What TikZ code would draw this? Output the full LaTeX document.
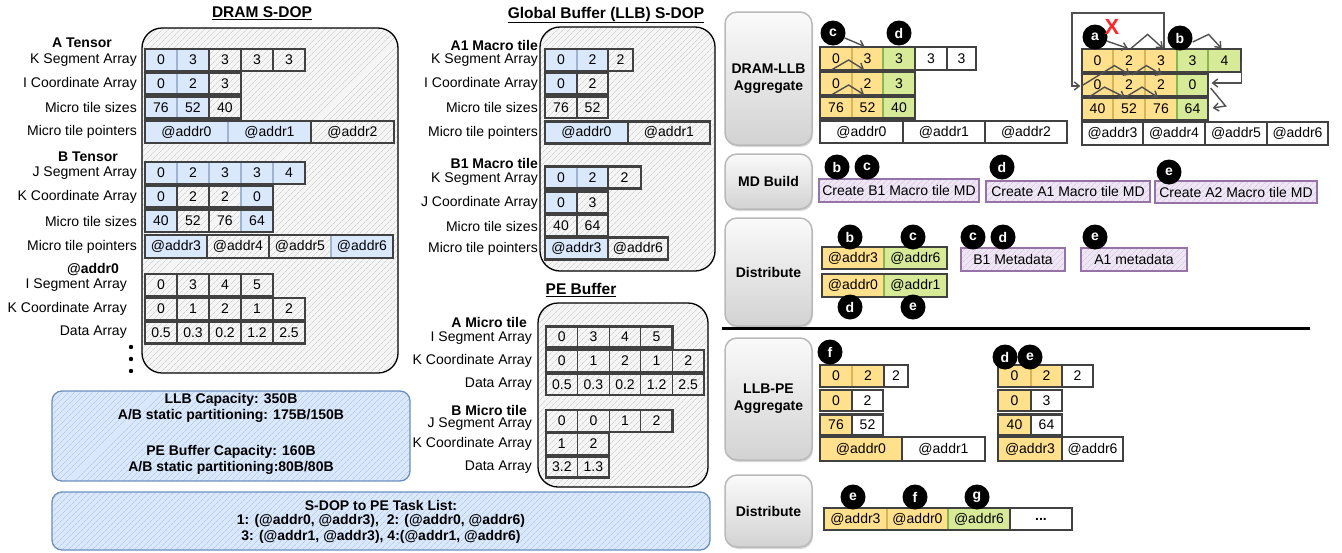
\documentclass[tikz,border=0pt]{standalone}
\usepackage{fontspec}
\setmainfont{Liberation Sans}
\usetikzlibrary{patterns.meta,shadows,arrows.meta}
\definecolor{cellgray}{RGB}{65,65,65}
\definecolor{blfill}{RGB}{218,232,252}
\definecolor{bldraw}{RGB}{160,180,210}
\definecolor{yefill}{RGB}{255,224,140}
\definecolor{yedraw}{RGB}{214,182,86}
\definecolor{grfill}{RGB}{214,234,152}
\definecolor{grdraw}{RGB}{140,180,80}
\definecolor{pufill}{RGB}{238,230,244}
\definecolor{pudraw}{RGB}{150,115,166}
\definecolor{pupat}{RGB}{205,185,215}
\definecolor{bxfill}{RGB}{218,232,252}
\definecolor{bxdraw}{RGB}{108,142,191}
\definecolor{bxpat}{RGB}{165,188,220}
\definecolor{arrgray}{RGB}{80,80,80}
\definecolor{xred}{RGB}{255,40,40}
\newcommand\myfs{\fontsize{14}{15}\selectfont}
\tikzset{
 cell/.style={draw=cellgray,line width=1.2pt,inner sep=0pt,font=\myfs},
 cb/.style={fill=blfill,draw=bldraw},
 cy/.style={fill=yefill,draw=yedraw},
 cg/.style={fill=grfill,draw=grdraw},
 cw/.style={fill=white},
 cn/.style={},
 frame/.style={draw=cellgray,line width=2.2pt},
 lbl/.style={anchor=east,inner sep=0pt,font=\myfs},
 hdr/.style={anchor=east,inner sep=0pt,font=\myfs\bfseries},
 ttl/.style={inner sep=0pt,font=\fontsize{15.5}{17}\selectfont\bfseries},
 cont/.style={draw=black,line width=1.3pt,rounded corners=20pt,preaction={fill=gray!8},pattern={Lines[angle=45,distance=4pt,line width=0.4pt]},pattern color=gray!50},
 bx/.style={draw=bxdraw,line width=1.3pt,rounded corners=10pt,preaction={fill=bxfill},pattern={Lines[angle=45,distance=4pt,line width=0.4pt]},pattern color=bxpat},
 pbox/.style={draw=pudraw,line width=1.3pt,preaction={fill=pufill},pattern={Lines[angle=45,distance=4pt,line width=0.4pt]},pattern color=pupat,inner sep=0pt,font=\myfs},
 btn/.style={draw=gray!55,line width=1.5pt,rounded corners=12pt,top color=gray!4,bottom color=gray!35,drop shadow={shadow xshift=1pt,shadow yshift=-2pt,opacity=0.3},font=\fontsize{14}{17}\selectfont\bfseries,align=center,inner sep=0pt,minimum width=87pt},
 bc/.style={circle,fill=black,minimum size=25pt,inner sep=0pt,text=white,font=\myfs\bfseries},
 arr/.style={draw=arrgray,line width=1.4pt,-{Straight Barb[length=5pt,width=8pt]}},
 btxt/.style={inner sep=0pt,font=\myfs\bfseries},
}
% row of cells: prefix, x0, y, height, list value/style/width
\newcommand\crow[5]{%
  \foreach \v/\s/\w [count=\i, remember=\nx as \cx (initially #2)] in {#5} {%
    \pgfmathsetmacro\nx{\cx+\w}%
    \node[cell,\s,minimum width=\w pt,minimum height=#4pt] (#1-\i) at ({\cx+\w/2},#3) {\v};%
    \xdef\lastx{\nx}%
  }%
  \draw[frame] (#2,{#3-#4/2}) rectangle (\lastx,{#3+#4/2});%
}
\begin{document}
\begin{tikzpicture}[x=1pt,y=-1pt]
\useasboundingbox (0,0) rectangle (1342,552);
% ---------- containers ----------
\draw[cont] (142,28) rectangle (398,373);
\draw[cont] (540,27) rectangle (715,271);
\draw[cont] (538,303) rectangle (708,487);
\node[ttl] (t1) at (262,13) {\underline{DRAM S-DOP}};
\node[ttl] (t2) at (606,15) {\underline{Global Buffer (LLB) S-DOP}};
\node[ttl] (t3) at (581,290) {\underline{PE Buffer}};
% ---------- DRAM S-DOP ----------
\node[hdr,anchor=center] (hA) at (82,43) {A Tensor};
\crow{dak}{145}{60}{22}{0/cb/32,3/cb/32,3/cn/32,3/cn/32,3/cn/32}
\node[lbl] (ldak) at (137,60) {K Segment Array};
\crow{dai}{145}{83.5}{22}{0/cb/32,2/cb/32,3/cn/32}
\node[lbl] (ldai) at (137,83.5) {I Coordinate Array};
\crow{das}{145}{107.5}{22}{76/cb/32,52/cb/32,40/cn/32}
\node[lbl] (ldas) at (137,107.5) {Micro tile sizes};
\crow{dap}{145}{132}{22}{@addr0/cb/83,@addr1/cb/83,@addr2/cn/83}
\node[lbl] (ldap) at (137,132) {Micro tile pointers};
\node[hdr,anchor=center] (hB) at (88,157) {B Tensor};
\crow{dbj}{145}{173}{22}{0/cb/32,2/cb/32,3/cb/32,3/cb/32,4/cb/32}
\node[lbl] (ldbj) at (137,173) {J Segment Array};
\crow{dbk}{145}{196.5}{22}{0/cb/32,2/cn/32,2/cn/32,0/cb/32}
\node[lbl] (ldbk) at (137,196.5) {K Coordinate Array};
\crow{dbs}{145}{221}{22}{40/cb/32,52/cn/32,76/cn/32,64/cb/32}
\node[lbl] (ldbs) at (137,221) {Micro tile sizes};
\crow{dbp}{145}{246.5}{23}{@addr3/cb/62,@addr4/cn/62,@addr5/cn/62,@addr6/cb/62}
\node[lbl] (ldbp) at (137,246.5) {Micro tile pointers};
\node[hdr,anchor=center] (hC) at (93,270) {@addr0};
\crow{dci}{145}{285}{22}{0/cn/32,3/cn/32,4/cn/32,5/cn/32}
\node[lbl] (ldci) at (127,285) {I Segment Array};
\crow{dck}{145}{309}{22}{0/cn/32,1/cn/32,2/cn/32,1/cn/32,2/cn/32}
\node[lbl] (ldck) at (127,309) {K Coordinate Array};
\crow{dcd}{145}{332.5}{22}{0.5/cn/32,0.3/cn/32,0.2/cn/32,1.2/cn/32,2.5/cn/32}
\node[lbl] (ldcd) at (127,332.5) {Data Array};
\fill (131,347) circle (2.2pt) (131,359) circle (2.2pt) (131,371) circle (2.2pt);
% ---------- LLB S-DOP ----------
\node[hdr] (hA1) at (538,45) {A1 Macro tile};
\crow{gak}{545}{60}{22}{0/cb/32,2/cb/31,2/cn/25}
\node[lbl] (lgak) at (538,60) {K Segment Array};
\crow{gai}{545}{83.5}{22}{0/cb/32,2/cn/31}
\node[lbl] (lgai) at (538,83.5) {I Coordinate Array};
\crow{gas}{545}{107.5}{21}{76/cn/32,52/cn/31}
\node[lbl] (lgas) at (538,107.5) {Micro tile sizes};
\crow{gap}{545}{132.5}{22}{@addr0/cb/83,@addr1/cn/82}
\node[lbl] (lgap) at (538,132.5) {Micro tile pointers};
\node[hdr] (hB1) at (538,163) {B1 Macro tile};
\crow{gbk}{545}{177.5}{22}{0/cb/32,2/cb/31,2/cn/33}
\node[lbl] (lgbk) at (538,179) {K Segment Array};
\crow{gbj}{545}{202.5}{22}{0/cb/32,3/cn/31}
\node[lbl] (lgbj) at (538,202.5) {J Coordinate Array};
\crow{gbs}{545}{225.5}{21}{40/cn/32,64/cn/31}
\node[lbl] (lgbs) at (538,226) {Micro tile sizes};
\crow{gbp}{545}{248.5}{22}{@addr3/cb/63,@addr6/cn/60}
\node[lbl] (lgbp) at (538,249) {Micro tile pointers};
% ---------- PE Buffer ----------
\node[hdr] (hAm) at (527,322) {A Micro tile};
\crow{pai}{546}{337}{21}{0/cn/31.6,3/cn/31.6,4/cn/31.6,5/cn/31.6}
\node[lbl] (lpai) at (532,338) {I Segment Array};
\crow{pak}{546}{361}{22}{0/cn/31.6,1/cn/31.6,2/cn/31.6,1/cn/31.6,2/cn/31.6}
\node[lbl] (lpak) at (532,361) {K Coordinate Array};
\crow{pad}{546}{384.5}{21}{0.5/cn/31.6,0.3/cn/31.6,0.2/cn/31.6,1.2/cn/31.6,2.5/cn/31.6}
\node[lbl] (lpad) at (532,384.5) {Data Array};
\node[hdr] (hBm) at (527,410) {B Micro tile};
\crow{pbj}{546}{421}{22}{0/cn/31.6,0/cn/31.6,1/cn/31.6,2/cn/31.6}
\node[lbl] (lpbj) at (532,424) {J Segment Array};
\crow{pbk}{546}{444}{22}{1/cn/31.6,2/cn/31.6}
\node[lbl] (lpbk) at (532,444) {K Coordinate Array};
\crow{pbd}{546}{467}{21}{3.2/cn/31.6,1.3/cn/31.6}
\node[lbl] (lpbd) at (532,467) {Data Array};
% ---------- bottom-left boxes ----------
\draw[bx] (52,391) rectangle (410,481);
\node[btxt] (c1) at (231,400) {LLB Capacity: 350B};
\node[btxt] (c2) at (231,416) {A/B static partitioning: 175B/150B};
\node[btxt] (c3) at (231,452) {PE Buffer Capacity: 160B};
\node[btxt] (c4) at (231,468) {A/B static partitioning:80B/80B};
\draw[bx] (52,492) rectangle (710,550);
\node[btxt] (k1) at (381,505) {S-DOP to PE Task List:};
\node[btxt] (k2) at (381,521) {1: (@addr0, @addr3),\ \ 2: (@addr0, @addr6)};
\node[btxt] (k3) at (381,537) {3: (@addr1, @addr3), 4:(@addr1, @addr6)};
% ---------- right: stage buttons ----------
\node[btn,minimum height=133pt] (s1) at (768.5,78.5) {DRAM-LLB\\Aggregate};
\node[btn,minimum height=55pt] (s2) at (768.5,181.5) {MD Build};
\node[btn,minimum height=108pt] (s3) at (768.5,272) {Distribute};
\node[btn,minimum height=122pt] (s4) at (768.5,399) {LLB-PE\\Aggregate};
\node[btn,minimum height=72pt] (s5) at (768.5,511) {Distribute};
% ---------- DRAM-LLB aggregate, A ----------
\crow{L1}{820}{58.5}{23}{0/cy/32,3/cy/31,3/cg/32,3/cw/32,3/cw/29}
\crow{L2}{820}{83.5}{23}{0/cy/32,2/cy/31,3/cg/32}
\crow{L3}{820}{107.5}{22}{76/cy/32,52/cy/31,40/cg/32}
\crow{L4}{820}{132}{22}{@addr0/cw/83,@addr1/cw/82,@addr2/cw/82}
\draw[arr] ([xshift=-4pt,yshift=1pt]L1-1.south) -- ([xshift=-4pt,yshift=-1.5pt]L1-1.east) -- ([xshift=-3.5pt,yshift=1pt]L1-2.south);
\draw[arr] ([xshift=-4pt,yshift=1pt]L2-1.south) -- ([xshift=-4pt,yshift=-1.5pt]L2-1.east) -- ([xshift=-3.5pt,yshift=1pt]L2-2.south);
\node[bc] (lc) at (833,33) {c};
\node[bc] (ld) at (899,33) {d};
\draw[arr] (lc) -- ([xshift=-3pt]L1-2.north);
% ---------- DRAM-LLB aggregate, B ----------
\crow{R1}{1082}{60.5}{23}{0/cy/31,2/cy/32,3/cy/32,3/cg/31,4/cg/33}
\crow{R2}{1082}{85}{23}{0/cy/31,2/cy/32,2/cy/32,0/cg/31}
\crow{R3}{1082}{109}{22}{40/cy/31,52/cy/32,76/cy/32,64/cg/31}
\crow{R4}{1082}{133.5}{23}{@addr3/cw/61,@addr4/cw/62,@addr5/cw/62,@addr6/cw/61}
\coordinate (loopTL) at (1072,13);
\draw[arr] ([xshift=3pt]R1-3.north) |- (loopTL) |- ([xshift=-1pt,yshift=-1pt]R2-1.west);
\draw[arr] ([xshift=2pt]R1-2.north) -- ([xshift=2pt,yshift=14pt]R1-2.north east) -- ([xshift=2pt]R1-3.north);
\draw[arr] ([yshift=-1pt]R2-1.west) -- ([xshift=2pt,yshift=7pt]R1-2.south west) -- ([xshift=1pt,yshift=-2pt]R2-2.north);
\draw[arr] ([xshift=3pt,yshift=-2pt]R2-2.north) -- ([xshift=2pt,yshift=7pt]R1-3.south west) -- ([xshift=1pt,yshift=-2pt]R2-3.north);
\draw[arr] ([xshift=-9pt]R3-1.north) -- ([xshift=7pt,yshift=10pt]R2-1.south) -- ([xshift=-4pt]R3-2.north);
\draw[arr] ([xshift=-4pt]R3-2.north) -- ([xshift=13pt,yshift=10pt]R2-2.south) -- ([xshift=-3pt]R3-3.north);
\draw[arr] (R1-5.east) |- ([xshift=3pt,yshift=2pt]R2-4.east);
\draw[arr] ([xshift=2pt,yshift=-3pt]R2-4.east) -- ++(15,18) -- ([xshift=4pt,yshift=1pt]R3-4.east);
\node[bc] (ra) at (1095,37) {a};
\node[bc] (rb) at (1180,38) {b};
\draw[arr] (ra) -- ([xshift=-1pt]R1-2.north);
\draw[arr] ([yshift=-4pt]rb.east) -- ([yshift=14pt]R1-4.north east) -- ([xshift=-3pt]R1-5.north);
\node[text=xred,inner sep=0pt,font=\fontsize{22}{22}\selectfont\bfseries] (rx) at (1112,27) {X};
% ---------- MD Build ----------
\node[pbox,minimum width=160pt,minimum height=23pt] (md1) at (899,190.5) {Create B1 Macro tile MD};
\node[pbox,minimum width=164pt,minimum height=21pt] (md2) at (1068,191.5) {Create A1 Macro tile MD};
\node[pbox,minimum width=162pt,minimum height=22pt] (md3) at (1236,192) {Create A2 Macro tile MD};
\node[bc] (mb) at (837,167) {b};
\node[bc] (mc) at (867,167) {c};
\node[bc] (md) at (1002,167) {d};
\node[bc] (me) at (1169,172) {e};
% ---------- Distribute 1 ----------
\crow{D1}{822}{258}{22}{@addr3/cy/62,@addr6/cg/63}
\crow{D2}{822}{285.5}{23}{@addr0/cy/62,@addr1/cg/63}
\node[bc] (db) at (850,237) {b};
\node[bc] (dc) at (913,237) {c};
\node[bc] (dd) at (850,307) {d};
\node[bc] (de) at (913,307) {e};
\node[pbox,minimum width=104pt,minimum height=23pt] (meta1) at (1013,259.5) {B1 Metadata};
\node[pbox,minimum width=106pt,minimum height=23pt] (meta2) at (1134,259.5) {A1 metadata};
\node[bc] (dc2) at (973,237) {c};
\node[bc] (dd2) at (1003,237) {d};
\node[bc] (de2) at (1095,237) {e};
% ---------- separator ----------
\draw[line width=3pt] (722,328) -- (1310,328);
% ---------- LLB-PE aggregate ----------
\crow{P1}{820}{376}{22}{0/cy/32,2/cy/32,2/cw/24}
\crow{P2}{820}{400.5}{21}{0/cy/32,2/cw/31}
\crow{P3}{820}{425}{21}{76/cy/32,52/cw/31}
\crow{P4}{820}{449}{24}{@addr0/cy/82,@addr1/cw/83}
\node[bc] (pf) at (830,352) {f};
\crow{Q1}{998}{376}{22}{0/cy/33,2/cy/31,2/cw/31}
\crow{Q2}{998}{400.5}{21}{0/cy/33,3/cw/31}
\crow{Q3}{998}{425}{21}{40/cy/33,64/cw/31}
\crow{Q4}{998}{449}{24}{@addr3/cy/64,@addr6/cw/61}
\node[bc] (qd) at (1005,357) {d};
\node[bc] (qe) at (1030,357) {e};
% ---------- Distribute 2 ----------
\crow{E1}{824}{519}{22}{@addr3/cy/63,@addr0/cy/61,@addr6/cg/62,{\bfseries ...}/cw/62}
\node[bc] (ee) at (853,497) {e};
\node[bc] (ef) at (915,497) {f};
\node[bc] (eg) at (977,497) {g};
\end{tikzpicture}
\end{document}
